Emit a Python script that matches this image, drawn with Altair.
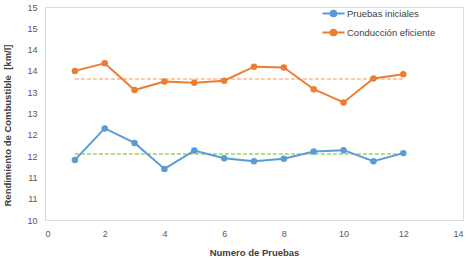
import altair as alt
import pandas as pd

pruebas = [1, 2, 3, 4, 5, 6, 7, 8, 9, 10, 11, 12]
iniciales = [11.41, 12.15, 11.81, 11.20, 11.63, 11.45, 11.38, 11.44, 11.61, 11.64, 11.38, 11.57]
eficiente = [13.50, 13.68, 13.05, 13.25, 13.22, 13.27, 13.60, 13.58, 13.07, 12.76, 13.32, 13.42]
prom_iniciales = [11.55] * 12
prom_eficiente = [13.31] * 12
series_names = ["Pruebas iniciales", "Conducción eficiente"]
series_colors = ["#5B9BD5", "#ED7D31"]
x_ticks = [0, 2, 4, 6, 8, 10, 12, 14]
y_ticks = [10, 10.5, 11, 11.5, 12, 12.5, 13, 13.5, 14, 14.5, 15]

df = pd.DataFrame({
    "x": pruebas * 2,
    "y": iniciales + eficiente,
    "serie": [series_names[0]] * 12 + [series_names[1]] * 12,
})
avg = pd.DataFrame({
    "x": pruebas,
    "a1": prom_iniciales,
    "a2": prom_eficiente,
})

FONT = "Liberation Sans"

xscale = alt.Scale(domain=[0, 14], nice=False)
xaxis = alt.Axis(values=x_ticks, title="Numero de Pruebas", grid=False,
                 ticks=False, domainColor="#d9d9d9", labelColor="#595959",
                 labelFontSize=9, labelFont=FONT, labelPadding=9,
                 titleFont=FONT, titleFontSize=9.5, titleFontWeight="bold",
                 titleColor="#404040", titlePadding=9)
yscale = alt.Scale(domain=[10, 15], nice=False, zero=False)
yaxis = alt.Axis(values=y_ticks, format=".0f", title="Rendimiento de Combustible \u00a0[km/l]",
                 grid=False, ticks=False, domainColor="#d9d9d9", labelColor="#595959",
                 labelFontSize=9, labelFont=FONT, labelPadding=8, labelOverlap=False,
                 titleFont=FONT, titleFontSize=9.5, titleFontWeight="bold",
                 titleColor="#404040", titleX=-33, titleY=118)

def X(f):
    return alt.X(f, type="quantitative", scale=xscale, axis=xaxis)

def Y(f):
    return alt.Y(f, type="quantitative", scale=yscale, axis=yaxis)

color = alt.Color("serie:N", scale=alt.Scale(domain=series_names, range=series_colors),
                  legend=alt.Legend(title=None, orient="none", legendX=278, legendY=-4,
                                    symbolType="M-1.16,0L1.16,0M-0.3,0A0.3,0.3 0 1,0 0.3,0A0.3,0.3 0 1,0 -0.3,0Z",
                                    symbolSize=361, symbolStrokeWidth=2,
                                    labelFont=FONT, labelFontSize=9.5, labelColor="#404040",
                                    labelOffset=3, rowPadding=1, padding=0))

base = alt.Chart(df)
line = base.mark_line(strokeWidth=2).encode(x=X("x"), y=Y("y"), color=color)
pts = base.mark_point(filled=True, size=42, opacity=1).encode(x=X("x"), y=Y("y"), color=color)

avg1 = alt.Chart(avg).mark_line(strokeDash=[4, 2], strokeWidth=1.5, color="#9DCF6E").encode(
    x=X("x"), y=Y("a1"))
avg2 = alt.Chart(avg).mark_line(strokeDash=[4, 2], strokeWidth=1.5, color="#F6B896").encode(
    x=X("x"), y=Y("a2"))

chart = alt.layer(avg1, avg2, line, pts).properties(
    width=418, height=213,
    autosize=alt.AutoSizeParams(type="none"),
    padding={"left": 45, "top": 7, "right": 11, "bottom": 38},
).configure_view(stroke=None).configure(background="white")

chart.save("out.html", embed_options={"renderer": "svg", "actions": False})
